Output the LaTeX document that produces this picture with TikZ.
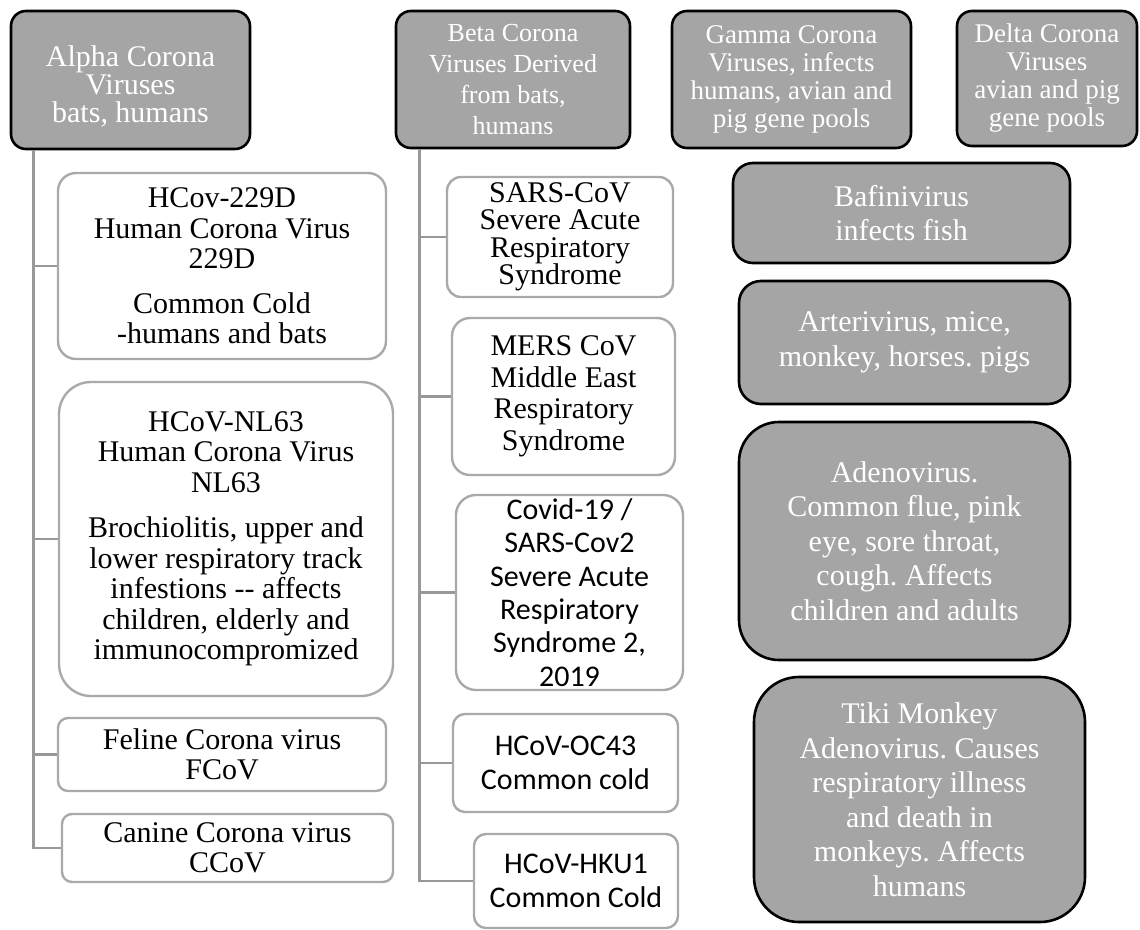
\documentclass[tikz,border=0pt]{standalone}
\usepackage{fontspec}
\setmainfont{Liberation Serif}
\newfontfamily\calib{Carlito}
\frenchspacing
\definecolor{hdrfill}{HTML}{A5A5A5}
\definecolor{kidline}{HTML}{A9A9A9}
\definecolor{connline}{HTML}{989898}
\tikzset{
  hdr/.style={draw=black, line width=2.6pt, fill=hdrfill, text=white, align=center, inner sep=0pt},
  kid/.style={draw=kidline, line width=2.4pt, fill=white, text=black, align=center, inner sep=0pt},
  conn/.style={draw=connline, line width=2.8pt},
  fA/.style={font={\fontsize{30}{28}\selectfont}},
  fB/.style={font={\fontsize{26}{31}\selectfont}},
  fG/.style={font={\fontsize{27}{28}\selectfont}},
  fR/.style={font={\fontsize{30}{34.5}\selectfont}},
  fL/.style={font={\fontsize{30}{30.5}\selectfont}},
  fS/.style={font={\fontsize{30}{27.5}\selectfont}},
  fM/.style={font={\fontsize{30}{31.5}\selectfont}},
  fC/.style={font={\calib\fontsize{30}{33.3}\selectfont}}
}
\begin{document}
\begin{tikzpicture}[x=1pt,y=-1pt]
\useasboundingbox (0,0) rectangle (1140,929);
% headers
\node[hdr, minimum width=239pt, minimum height=138pt, rounded corners=15pt] (alpha) at (130.5,80) {};
\node[fA, text=white, align=center] (alphat) at (130.5,86) {Alpha Corona\\Viruses\\bats, humans};
\node[hdr, fB, minimum width=234pt, minimum height=137pt, rounded corners=15pt] (beta) at (513,79.5) {Beta Corona\\Viruses Derived\\from bats,\\humans};
\node[hdr, fG, minimum width=239pt, minimum height=137pt, rounded corners=15pt] (gamma) at (791.5,79.5) {Gamma Corona\\Viruses, infects\\humans, avian and\\pig gene pools};
\node[hdr, fG, minimum width=180pt, minimum height=135pt, rounded corners=15pt] (delta) at (1047,78.5) {Delta Corona\\Viruses\\avian and pig\\gene pools};
% right column
\node[hdr, fR, minimum width=337pt, minimum height=100pt, rounded corners=20pt] (bafini) at (901.5,213) {Bafinivirus\\infects fish};
\node[hdr, fR, minimum width=331pt, minimum height=123pt, rounded corners=22pt] (arteri) at (904.5,342.5) {Arterivirus, mice,\\monkey, horses. pigs};
\node[hdr, fR, minimum width=331pt, minimum height=238pt, rounded corners=40pt] (adeno) at (904.5,541) {Adenovirus.\\Common flue, pink\\eye, sore throat,\\cough. Affects\\children and adults};
\node[hdr, fR, minimum width=331pt, minimum height=245pt, rounded corners=45pt] (tiki) at (919.5,799.5) {Tiki Monkey\\Adenovirus. Causes\\respiratory illness\\and death in\\monkeys. Affects\\humans};
% alpha children
\coordinate (ta) at ([xshift=24pt]alpha.south west);
\node[kid, fL, minimum width=328pt, minimum height=186pt, rounded corners=18pt] (a1) at (222,266) {HCov-229D\\Human Corona Virus\\229D\\[14pt]Common Cold\\-humans and bats};
\node[kid, fL, minimum width=334pt, minimum height=314pt, rounded corners=32pt] (a2) at (226,539) {HCoV-NL63\\Human Corona Virus\\NL63\\[15pt]Brochiolitis, upper and\\lower respiratory track\\infestions {-}{-} affects\\children, elderly and\\immunocompromized};
\node[kid, fL, minimum width=328pt, minimum height=73pt, rounded corners=10pt] (a3) at (222,754.5) {Feline Corona virus\\FCoV};
\node[kid, fL, minimum width=331pt, minimum height=68pt, rounded corners=10pt] (a4) at (227.5,848) {Canine Corona virus\\CCoV};
\draw[conn] (ta) |- (a4.west);
\draw[conn] (a1.west) -- (a1.west -| ta);
\draw[conn] (a2.west) -- (a2.west -| ta);
\draw[conn] (a3.west) -- (a3.west -| ta);
% beta children
\coordinate (tb) at ([xshift=25pt]beta.south west);
\node[kid, fS, minimum width=226pt, minimum height=120pt, rounded corners=14pt] (b1) at (560,237) {SARS-CoV\\Severe Acute\\Respiratory\\Syndrome};
\node[kid, fM, minimum width=223pt, minimum height=157pt, rounded corners=18pt] (b2) at (563.5,396.5) {MERS CoV\\Middle East\\Respiratory\\Syndrome};
\node[kid, fC, minimum width=227pt, minimum height=195pt, rounded corners=20pt] (b3) at (569.5,592.5) {Covid-19 /\\SARS-Cov2\\Severe Acute\\Respiratory\\Syndrome 2,\\2019};
\node[kid, fC, minimum width=225pt, minimum height=98pt, rounded corners=12pt] (b4) at (565.5,763) {HCoV-OC43\\Common cold};
\node[kid, fC, minimum width=204pt, minimum height=94pt, rounded corners=12pt] (b5) at (576,881) {HCoV-HKU1\\Common Cold};
\draw[conn] (tb) |- (b5.west);
\draw[conn] (b1.west) -- (b1.west -| tb);
\draw[conn] (b2.west) -- (b2.west -| tb);
\draw[conn] (b3.west) -- (b3.west -| tb);
\draw[conn] (b4.west) -- (b4.west -| tb);
\end{tikzpicture}
\end{document}
